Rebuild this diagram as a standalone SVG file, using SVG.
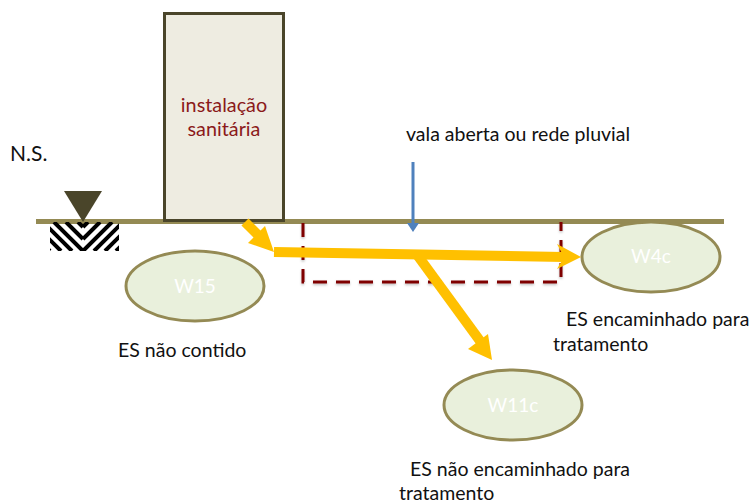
<svg xmlns="http://www.w3.org/2000/svg" width="750" height="504" viewBox="0 0 750 504">
<style>
.t{font-family:Lato,"Open Sans",sans-serif;font-size:19.500px;fill:#111}
.w{font-family:Lato,"Open Sans",sans-serif;font-size:19px;fill:#fff;text-anchor:middle}
.r{font-family:Lato,"Open Sans",sans-serif;font-size:19.800px;fill:#8b1a1a;text-anchor:middle}
.e{fill:#e9f0dc;stroke:#948a54;stroke-width:3}
.y{stroke:#ffc000;fill:none;stroke-width:10}
.a{fill:#ffc000}
.h{stroke:#000;stroke-width:4;fill:none}
</style>
<defs>
<clipPath id="hc"><rect x="50" y="222" width="69" height="29"/></clipPath>
<filter id="s" x="-5%" y="-5%" width="110%" height="120%"><feDropShadow dx="0" dy="1.500" stdDeviation="1" flood-color="#000" flood-opacity="0.25"/></filter>
</defs>
<rect width="750" height="504" fill="#fff"/>
<g id="ground"><rect x="36" y="219" width="688" height="5" fill="#948a54"/></g>
<g id="hatch" clip-path="url(#hc)">
<path class="h" d="M83 251L54 222M83 239L66 222M83 227L78 222M72 251L43 222M61 251L40 230M50 251L40 241M83 251L112 222M83 239L100 222M83 227L88 222M94 251L123 222M105 251L126 230M116 251L126 241"/>
</g>
<g id="level"><path d="M64 191H102L83 222Z" fill="#4a452a"/><text class="t" x="10" y="161" style="font-size:21px">N.S.</text></g>
<g id="building"><rect x="164.500" y="13.500" width="119" height="207" fill="#eeece1" stroke="#4a452a" stroke-width="3"/>
<text class="r" x="224" y="112">instalação</text>
<text class="r" x="224" y="136">sanitária</text></g>
<g id="vala"><path d="M303 223V282H561V222" fill="none" stroke="#7f0000" stroke-width="3" stroke-dasharray="14 9" filter="url(#s)"/></g>
<g id="w15"><ellipse class="e" cx="195" cy="286" rx="69" ry="35"/><text class="w" x="195" y="293">W15</text></g>
<g id="w4c"><ellipse class="e" cx="651" cy="257" rx="69" ry="35"/><text class="w" x="651" y="263">W4c</text></g>
<g id="w11c"><ellipse class="e" cx="513" cy="405" rx="69" ry="35"/><text class="w" x="513" y="412">W11c</text></g>
<g id="connectors">
<path d="M413 162V226" stroke="#4f81bd" stroke-width="3" fill="none"/><path d="M407 223H419L413 232Z" fill="#4f81bd"/>
<path class="y" d="M245 222L264 241"/><path class="a" d="M248 243L265 226L274 252Z"/>
<path class="y" d="M274 252L564 257"/><path class="a" d="M557 244L581 257L557 269L564 257Z"/>
<path class="y" d="M418 256L483 345"/><path class="a" d="M468 349L488 334L492 360Z"/>
</g>
<g id="labels">
<text class="t" x="406" y="141">vala aberta ou rede pluvial</text>
<text class="t" x="118" y="357">ES não contido</text>
<text class="t" x="566" y="326">ES encaminhado para</text>
<text class="t" x="553" y="351">tratamento</text>
<text class="t" x="410" y="476">ES não encaminhado para</text>
<text class="t" x="399" y="500">tratamento</text>
</g>
</svg>
